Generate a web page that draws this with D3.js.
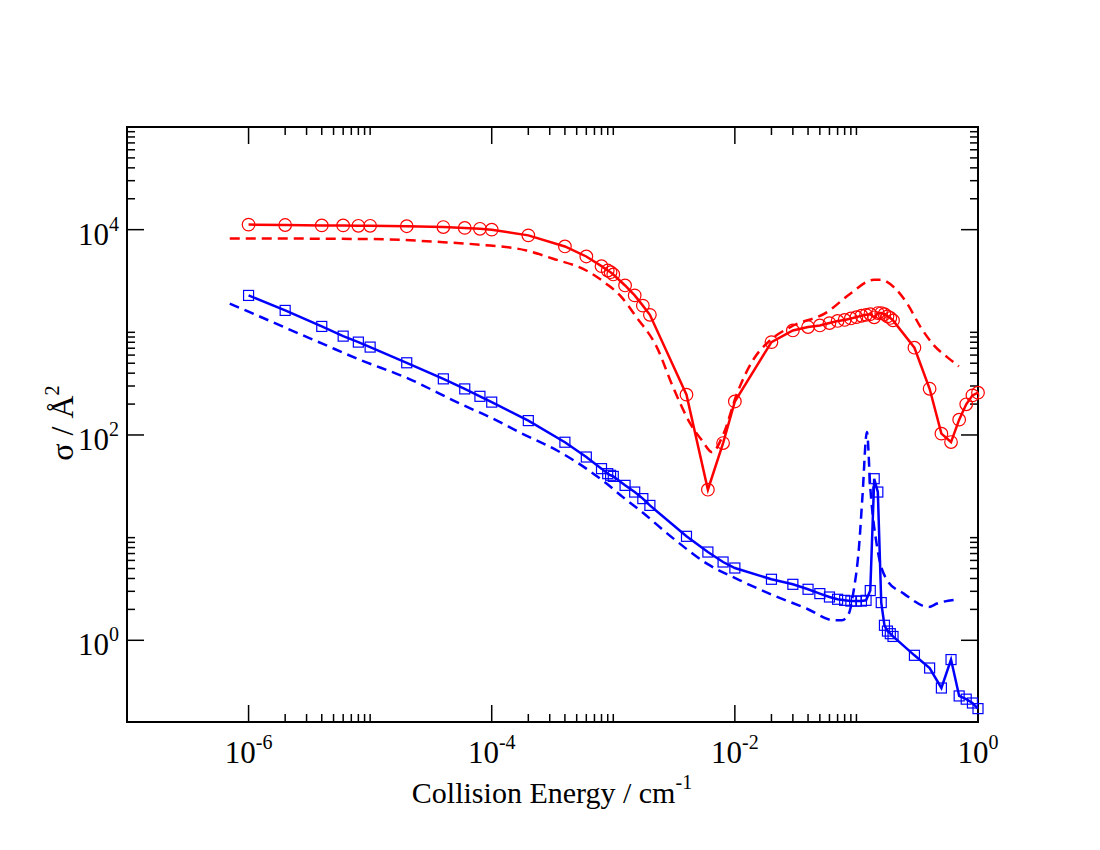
<!DOCTYPE html>
<html lang="en">

<head>
    <meta charset="UTF-8">
    <title>Cross section vs collision energy</title>
    <script src="https://d3js.org/d3.v7.min.js"></script>
    <style>
        body { margin: 0; background: #fff; }
        text { font-family: "Liberation Serif", "Times New Roman", serif; }
    </style>
</head>

<body>
    <div id="chart"></div>
    <script>
        // energy grid shared by both marker sets (cm^-1)
        const energies = [1e-6, 2e-6, 4e-6, 6e-6, 8e-6, 1e-5, 2e-5, 4e-5, 6e-5, 8e-5,
            1e-4, 2e-4, 4e-4, 6e-4, 8e-4, 9e-4, 9.5e-4, 1e-3, 1.25e-3, 1.5e-3, 1.75e-3, 2e-3,
            4e-3, 6e-3, 8e-3, 1e-2, 2e-2, 3e-2, 4e-2, 5e-2, 6e-2, 7e-2, 8e-2, 9e-2,
            0.1, 0.11, 0.12, 0.13, 0.14, 0.15, 0.16, 0.17, 0.18, 0.19, 0.2,
            0.3, 0.4, 0.5, 0.6, 0.7, 0.8, 0.9, 1.0];

        // red circles (solid line)
        const redCircles = [11200, 11100, 11000, 11000, 10900, 10900, 10800, 10600, 10400, 10200,
            10000, 8800, 6860, 5480, 4410, 4000, 3850, 3660, 2860, 2290, 1820, 1480,
            247, 29.3, 83.4, 212, 803, 1043, 1125, 1167, 1230, 1290, 1320, 1365,
            1405, 1450, 1480, 1500, 1400, 1540, 1540, 1500, 1430, 1380, 1306,
            708, 282, 103, 85.3, 141, 199, 243, 258];

        // blue squares (solid line)
        const blueSquares = [2287, 1634, 1141, 918, 803, 718, 505, 352, 281, 238,
            209, 138, 85, 61, 47, 42, 40.5, 39.5, 32.3, 27.8, 24, 20.6,
            10.3, 7.24, 5.79, 5.06, 3.93, 3.51, 3.14, 2.85, 2.64, 2.51, 2.45, 2.41,
            2.41, 2.41, 2.45, 3.05, 37.5, 27.8, 2.33, 1.4, 1.23, 1.16, 1.09,
            0.714, 0.537, 0.343, 0.649, 0.287, 0.267, 0.245, 0.216];

        // red dashed curve
        const redDashX = [7e-7, 1e-6, 1e-5, 4e-5, 8e-5, 1.93e-4, 3.2e-4, 6e-4, 8.8e-4, 1.14e-3,
            1.55e-3, 2.28e-3, 3.1e-3, 4.3e-3, 5.36e-3, 6.5e-3, 8.07e-3, 1.04e-2, 1.43e-2, 1.95e-2,
            2.86e-2, 5.74e-2, 8.9e-2, 0.139, 0.158, 0.203, 0.262, 0.337, 0.434, 0.558, 0.697];
        const redDashY = [8200, 8200, 8100, 7550, 7130, 6270, 5210, 4000, 2960, 2280,
            1406, 718, 293, 129, 88.6, 68, 103, 252, 550, 835,
            1125, 1573, 2377, 3250, 3250, 2755, 1897, 1125, 746, 573, 466];

        // blue dashed curve
        const blueDashX = [7e-7, 1e-6, 2e-6, 4e-6, 8.2e-6, 2e-5, 5.47e-5, 1e-4, 1.7e-4, 3.65e-4, 6e-4,
            8.8e-4, 1.2e-3, 1.66e-3, 3.13e-3, 5.89e-3, 1.1e-2, 2.08e-2, 3.92e-2, 6.5e-2, 7.6e-2,
            8.65e-2, 9.5e-2, 0.105, 0.112, 0.122, 0.13, 0.148, 0.179, 0.245, 0.394, 0.46, 0.675];
        const blueDashY = [1900, 1590, 1110, 780, 541, 360, 202, 146, 106, 68, 47,
            33.6, 24.8, 18.4, 9.78, 5.58, 3.84, 2.74, 2.03, 1.57, 1.57,
            1.82, 3.07, 8.1, 24.8, 107, 31, 8.1, 3.84, 2.85, 2.11, 2.28, 2.49];

        // ticks: labelled majors every two decades, minors at 2..10 x major
        const xMajorExp = [-6, -4, -2, 0];
        const yMajorExp = [0, 2, 4];

        const width = 1100, height = 850;
        const pLeft = 127, pRight = 978, pTop = 127, pBottom = 722;

        const svg = d3.select('#chart')
            .append('svg')
            .attr('width', width)
            .attr('height', height);

        const x = d3.scaleLog().domain([1e-7, 1]).range([pLeft, pRight]);
        const y = d3.scaleLog().domain([0.16, 1e5]).range([pBottom, pTop]);

        const minorsFor = (exps, lo, hi) => exps.flatMap(e => d3.range(2, 11).map(k => k * Math.pow(10, e)))
            .filter(v => v > lo && v < hi);
        const xMinor = minorsFor([-8, -6, -4, -2], 1e-7, 1);
        const yMinor = minorsFor([-2, 0, 2, 4], 0.16, 1e5);

        // frame
        svg.append('rect')
            .attr('x', pLeft)
            .attr('y', pTop)
            .attr('width', pRight - pLeft)
            .attr('height', pBottom - pTop)
            .attr('fill', 'none')
            .attr('stroke', 'black')
            .attr('stroke-width', 2);

        const tickG = svg.append('g').attr('stroke', 'black').attr('stroke-width', 1.5);
        const majLen = 17, minLen = 8;

        // x ticks, bottom and top, pointing in
        xMajorExp.map(e => Math.pow(10, e)).forEach(v => {
            tickG.append('line').attr('x1', x(v)).attr('x2', x(v)).attr('y1', pBottom).attr('y2', pBottom - majLen);
            tickG.append('line').attr('x1', x(v)).attr('x2', x(v)).attr('y1', pTop).attr('y2', pTop + majLen);
        });
        xMinor.forEach(v => {
            tickG.append('line').attr('x1', x(v)).attr('x2', x(v)).attr('y1', pBottom).attr('y2', pBottom - minLen);
            tickG.append('line').attr('x1', x(v)).attr('x2', x(v)).attr('y1', pTop).attr('y2', pTop + minLen);
        });
        // y ticks, left and right
        yMajorExp.map(e => Math.pow(10, e)).forEach(v => {
            tickG.append('line').attr('y1', y(v)).attr('y2', y(v)).attr('x1', pLeft).attr('x2', pLeft + majLen);
            tickG.append('line').attr('y1', y(v)).attr('y2', y(v)).attr('x1', pRight).attr('x2', pRight - majLen);
        });
        yMinor.forEach(v => {
            tickG.append('line').attr('y1', y(v)).attr('y2', y(v)).attr('x1', pLeft).attr('x2', pLeft + minLen);
            tickG.append('line').attr('y1', y(v)).attr('y2', y(v)).attr('x1', pRight).attr('x2', pRight - minLen);
        });

        // tick labels as 10^n
        xMajorExp.forEach(e => {
            const t = svg.append('text')
                .attr('x', x(Math.pow(10, e)))
                .attr('y', 763)
                .attr('text-anchor', 'middle')
                .attr('font-size', 31)
                .text('10');
            t.append('tspan').attr('dy', -14).attr('font-size', 20).text(e);
        });
        yMajorExp.forEach(e => {
            const t = svg.append('text')
                .attr('x', 119)
                .attr('y', y(Math.pow(10, e)) + 15)
                .attr('text-anchor', 'end')
                .attr('font-size', 31)
                .text('10');
            t.append('tspan').attr('dy', -14).attr('font-size', 20).text(e);
        });

        // axis titles
        const xt = svg.append('text')
            .attr('x', 552)
            .attr('y', 803)
            .attr('text-anchor', 'middle')
            .attr('font-size', 30)
            .text('Collision Energy / cm');
        xt.append('tspan').attr('dy', -14).attr('font-size', 20).text('-1');

        const yt = svg.append('text')
            .attr('transform', 'translate(73,423) rotate(-90)')
            .attr('text-anchor', 'middle')
            .attr('font-size', 32)
            .text('\u03c3 / \u00c5');
        yt.append('tspan').attr('dy', -14).attr('font-size', 20).text('2');

        const plot = svg.append('g');
        const line = d3.line().x(d => x(d[0])).y(d => y(d[1]));

        // dashed curves
        plot.append('path')
            .datum(d3.zip(redDashX, redDashY))
            .attr('d', line.curve(d3.curveMonotoneX))
            .attr('fill', 'none')
            .attr('stroke', 'red')
            .attr('stroke-width', 2.5)
            .attr('stroke-dasharray', '10,6');
        plot.append('path')
            .datum(d3.zip(blueDashX, blueDashY))
            .attr('d', line.curve(d3.curveMonotoneX))
            .attr('fill', 'none')
            .attr('stroke', 'blue')
            .attr('stroke-width', 2.5)
            .attr('stroke-dasharray', '10,6');

        // solid lines with markers
        const redPts = d3.zip(energies, redCircles);
        const bluePts = d3.zip(energies, blueSquares);
        plot.append('path')
            .datum(redPts)
            .attr('d', line.curve(d3.curveLinear))
            .attr('fill', 'none')
            .attr('stroke', 'red')
            .attr('stroke-width', 2.5);
        plot.append('path')
            .datum(bluePts)
            .attr('d', line.curve(d3.curveLinear))
            .attr('fill', 'none')
            .attr('stroke', 'blue')
            .attr('stroke-width', 2.5);

        plot.selectAll('circle.red')
            .data(redPts)
            .enter()
            .append('circle')
            .attr('class', 'red')
            .attr('cx', d => x(d[0]))
            .attr('cy', d => y(d[1]))
            .attr('r', 6.3)
            .attr('fill', 'none')
            .attr('stroke', 'red')
            .attr('stroke-width', 1.2);

        plot.selectAll('rect.blue')
            .data(bluePts)
            .enter()
            .append('rect')
            .attr('class', 'blue')
            .attr('x', d => x(d[0]) - 5)
            .attr('y', d => y(d[1]) - 5)
            .attr('width', 10)
            .attr('height', 10)
            .attr('fill', 'none')
            .attr('stroke', 'blue')
            .attr('stroke-width', 1.2);
    </script>
</body>

</html>
